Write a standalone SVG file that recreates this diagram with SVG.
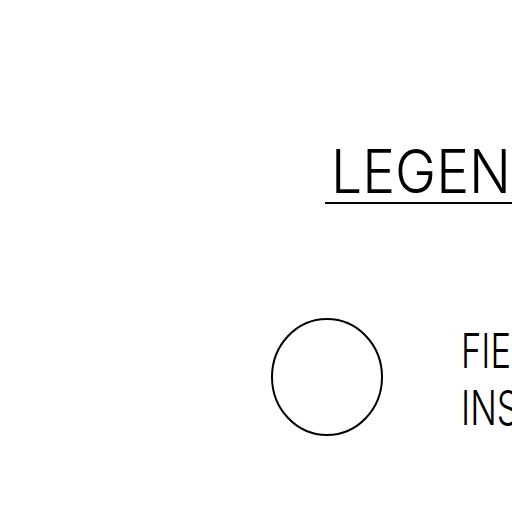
<svg xmlns="http://www.w3.org/2000/svg" width="512" height="512" viewBox="0 0 512 512">
<style>
.t{font-family:Inter,"Liberation Sans",sans-serif;font-weight:300;fill:#000}
</style>
<rect width="512" height="512" fill="#fff"/>
<g id="title">
<text class="t" x="331" y="193" font-size="60" textLength="180" lengthAdjust="spacingAndGlyphs">LEGEN</text>
<line x1="325" y1="203" x2="512" y2="203" stroke="#000" stroke-width="2"/>
</g>
<g id="symbol">
<ellipse cx="327" cy="377" rx="55" ry="58" fill="none" stroke="#000" stroke-width="2"/>
</g>
<g id="label">
<text class="t" x="461" y="368" font-size="48" textLength="50" lengthAdjust="spacingAndGlyphs">FIE</text>
<text class="t" x="461" y="425" font-size="48" textLength="58" lengthAdjust="spacingAndGlyphs">INS</text>
</g>
</svg>
